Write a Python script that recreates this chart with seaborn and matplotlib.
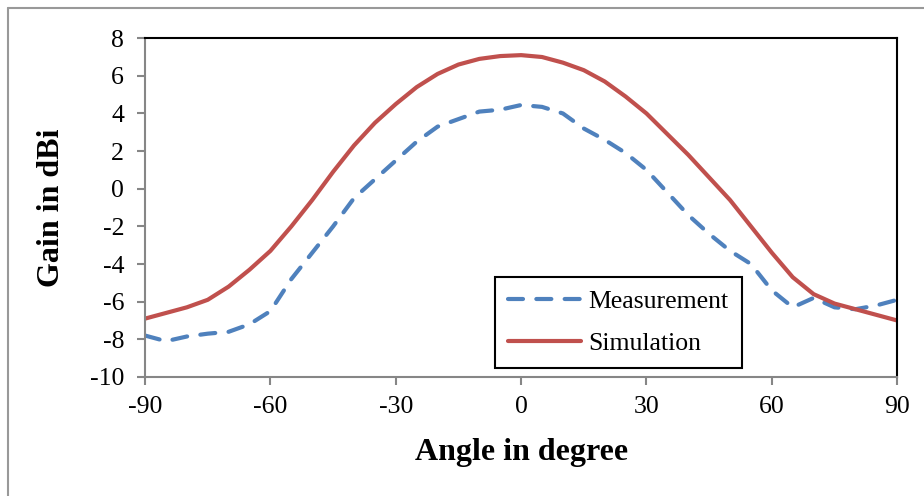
import numpy as np
import pandas as pd
import matplotlib
matplotlib.use("Agg")
import matplotlib.pyplot as plt
from matplotlib.lines import Line2D
import seaborn as sns

# Angles (degree) and gains (dBi)
angles = [-90, -85, -80, -75, -70, -65, -60, -55, -50, -45, -40, -35, -30,
          -25, -20, -15, -10, -5, 0, 5, 10, 15, 20, 25, 30, 35, 40, 45,
          50, 55, 60, 65, 70, 75, 80, 85, 90]
measurement = [-7.8, -8.1, -7.85, -7.7, -7.6, -7.2, -6.5, -4.8, -3.4, -2.0,
               -0.5, 0.5, 1.5, 2.5, 3.3, 3.7, 4.1, 4.2, 4.45, 4.35, 4.0,
               3.2, 2.6, 1.9, 1.0, -0.2, -1.4, -2.4, -3.3, -4.0, -5.4,
               -6.3, -5.8, -6.3, -6.4, -6.2, -5.9]
simulation = [-6.9, -6.6, -6.3, -5.9, -5.2, -4.3, -3.3, -2.0, -0.6, 0.9,
              2.3, 3.5, 4.5, 5.4, 6.1, 6.6, 6.9, 7.05, 7.1, 7.0, 6.7,
              6.3, 5.7, 4.9, 4.0, 2.9, 1.8, 0.6, -0.6, -2.0, -3.4,
              -4.7, -5.6, -6.1, -6.4, -6.7, -7.0]
xticks = [-90, -60, -30, 0, 30, 60, 90]
yticks = [-10, -8, -6, -4, -2, 0, 2, 4, 6, 8]

df = pd.DataFrame({"angle": angles, "Measurement": measurement,
                   "Simulation": simulation})

sns.set_theme(style="white")
plt.rcParams["font.family"] = ["Liberation Serif", "DejaVu Serif"]
plt.rcParams["axes.unicode_minus"] = False
plt.rcParams["text.color"] = "black"
plt.rcParams["axes.labelcolor"] = "black"
plt.rcParams["xtick.color"] = "black"
plt.rcParams["ytick.color"] = "black"

fig = plt.figure(figsize=(9.24, 4.96), dpi=100)
ax = fig.add_axes([0.157, 0.240, 0.814, 0.683])

blue = "#4F81BD"
red = "#C0504D"

sns.lineplot(data=df, x="angle", y="Measurement", ax=ax, color=blue,
             linewidth=3, label="Measurement")
ax.lines[-1].set_dashes([3.6, 3.2])
ax.lines[-1].set_dash_capstyle("round")
ax.lines[-1].set_dash_joinstyle("round")
sns.lineplot(data=df, x="angle", y="Simulation", ax=ax, color=red,
             linewidth=3, label="Simulation")
ax.lines[-1].set_solid_capstyle("round")
ax.lines[-1].set_solid_joinstyle("round")

ax.set_xlim(-90, 90)
ax.set_ylim(-10, 8)
ax.set_xticks(xticks)
ax.set_yticks(yticks)
ax.tick_params(axis="both", which="major", direction="out", length=6,
               width=1.5, color="#868686", labelsize=18.5,
               bottom=True, left=True)
ax.tick_params(axis="x", pad=8)
ax.tick_params(axis="y", pad=9)

for side in ["left", "bottom"]:
    ax.spines[side].set_color("#868686")
    ax.spines[side].set_linewidth(1.5)
for side in ["top", "right"]:
    ax.spines[side].set_color("black")
    ax.spines[side].set_linewidth(1.5)

ax.set_xlabel("Angle in degree", fontsize=23, fontweight="bold", labelpad=14)
ax.set_ylabel("Gain in dBi", fontsize=23, fontweight="bold", labelpad=17)

leg = ax.legend(loc="lower right", bbox_to_anchor=(0.793, 0.027),
                fontsize=18.5, frameon=True, fancybox=False,
                edgecolor="black", handlelength=2.85, handletextpad=0.3,
                borderpad=0.5, labelspacing=0.75, borderaxespad=0)
leg.get_frame().set_linewidth(1.5)
leg.get_frame().set_alpha(1)

# gray border of the chart area
fig.add_artist(Line2D([0.0087, 1.0], [0.983, 0.983], color="#999999", lw=1.5))
fig.add_artist(Line2D([0.0087, 0.0087], [0.0, 0.983], color="#999999", lw=1.5))

fig.savefig("out.png", dpi=100)
